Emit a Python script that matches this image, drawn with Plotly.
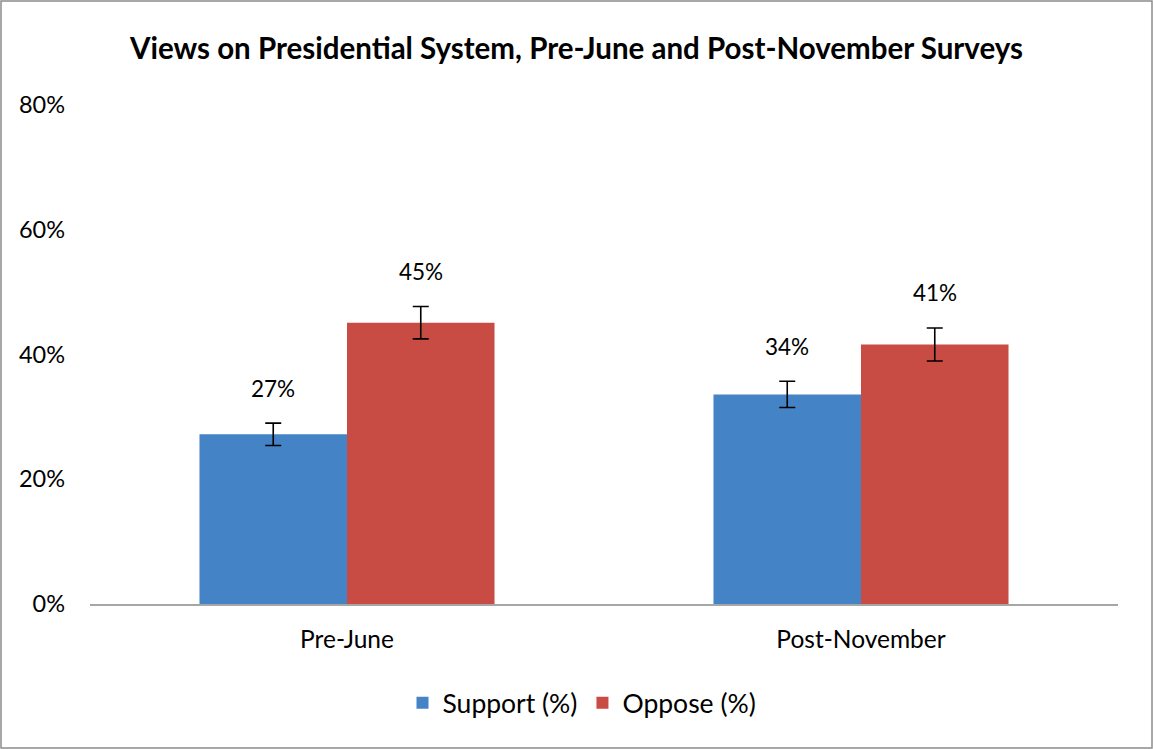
import plotly.graph_objects as go

categories = ["Pre-June", "Post-November"]
support = [27.2, 33.6]
oppose = [45.1, 41.6]
support_err = [1.8, 2.1]
oppose_err = [2.6, 2.65]
support_labels = ["27%", "34%"]
oppose_labels = ["45%", "41%"]
y_ticks = [0, 20, 40, 60, 80]
y_tick_labels = ["0%", "20%", "40%", "60%", "80%"]

W, H = 1153, 749
ml, mr, mt, mb = 90, 35, 105, 145
pw = W - ml - mr
ph = H - mt - mb

font = "Lato"

fig = go.Figure()
fig.add_trace(go.Bar(
    name="Support (%)", x=categories, y=support,
    marker=dict(color="#4483c6", line=dict(width=0)),
    error_y=dict(type="data", array=support_err, color="black", thickness=1.6, width=8),
))
fig.add_trace(go.Bar(
    name="Oppose (%)", x=categories, y=oppose,
    marker=dict(color="#c84c43", line=dict(width=0)),
    error_y=dict(type="data", array=oppose_err, color="black", thickness=1.6, width=8),
))

bargap = 0.426
cat_w = pw / len(categories)
bar_w = cat_w * (1 - bargap) / 2

annotations = []
for i, c in enumerate(categories):
    for vals, errs, labs, shift in ((support, support_err, support_labels, -bar_w / 2),
                                    (oppose, oppose_err, oppose_labels, bar_w / 2)):
        annotations.append(dict(
            x=c, y=vals[i] + errs[i], xref="x", yref="y", text=labs[i],
            showarrow=False, xshift=shift, yshift=35, yanchor="middle",
            font=dict(family=font, size=22.5, color="black"),
        ))

fig.update_layout(
    width=W, height=H,
    margin=dict(l=ml, r=mr, t=mt, b=mb),
    paper_bgcolor="white", plot_bgcolor="white",
    barmode="group", bargap=bargap, bargroupgap=0,
    title=dict(text="<b>Views on Presidential System, Pre-June and Post-November Surveys</b>",
               x=0.5, xanchor="center", y=1 - 49 / H, yanchor="middle",
               font=dict(family=font, size=29.5, color="black")),
    font=dict(family=font, size=23, color="black"),
    xaxis=dict(showline=True, linecolor="#a6a6a6", linewidth=1.5, ticks="",
               ticklabelstandoff=13,
               tickfont=dict(family=font, size=24.5, color="black"), showgrid=False),
    yaxis=dict(range=[0, 80], tickvals=y_ticks, ticktext=y_tick_labels, showgrid=False,
               zeroline=False, showline=False, ticks="", ticklabelstandoff=24,
               tickfont=dict(family=font, size=23.5, color="black")),
    legend=dict(orientation="h", x=0.5 - 22 / pw, xanchor="center", y=-(703 - mt - ph) / ph,
                yanchor="middle", font=dict(family=font, size=26.5, color="black"),
                itemwidth=30, traceorder="normal"),
    annotations=annotations,
    shapes=[dict(type="rect", xref="paper", yref="paper",
                 x0=-(ml - 1) / pw, x1=1 + (mr - 1) / pw,
                 y0=-(mb - 1) / ph, y1=1 + (mt - 1) / ph,
                 line=dict(color="#8c8c8c", width=1.5), fillcolor="rgba(0,0,0,0)")],
)

fig.write_html("out.html", config={"displayModeBar": False},
               post_script="document.body.style.margin='0';document.body.style.padding='0';")
